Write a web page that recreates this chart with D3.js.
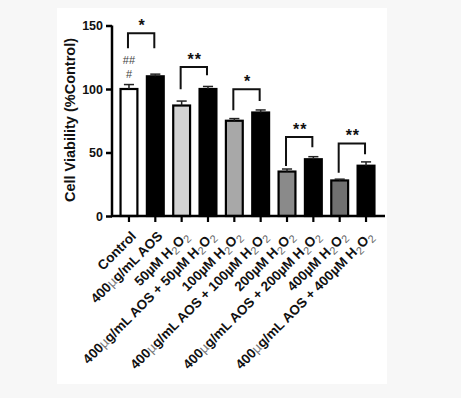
<!DOCTYPE html>
<html>
<head>
<meta charset="utf-8">
<script src="https://cdn.jsdelivr.net/npm/d3@7"></script>
<style>
  html, body { margin: 0; padding: 0; background: #f7f7f7; }
  svg { display: block; }
  text { font-family: "Liberation Sans", Arial, sans-serif; }
</style>
</head>
<body>
<div id="chart"></div>
<script>
// groups
const groups = [
  "Control",
  "400µg/mL AOS",
  "50µM H2O2",
  "400µg/mL AOS + 50µM H2O2",
  "100µM H2O2",
  "400µg/mL AOS + 100µM H2O2",
  "200µM H2O2",
  "400µg/mL AOS + 200µM H2O2",
  "400µM H2O2",
  "400µg/mL AOS + 400µM H2O2"
];
const means = [100, 110, 87, 100, 75, 81.5, 35, 44.7, 28, 39.6];
const errs  = [3.5, 1.7, 3.5, 2, 1.7, 2, 2, 2, 1, 3];
const fills = ["#ffffff", "#000000", "#d4d4d4", "#000000", "#a8a8a8", "#000000", "#8a8a8a", "#000000", "#707070", "#000000"];
const yTicks = [0, 50, 100, 150];

// significance brackets: which pair, bracket top, leg ends (in % units), mark
const pairA = [0, 2, 4, 6, 8];
const bracketTop = [143.8, 117.3, 99.8, 62.3, 57.1];
const legLeft = [132, 99.8, 83.3, 39.3, 34];
const legRight = [132, 110.8, 90.6, 54.2, 48.7];
const marks = ["*", "**", "*", "**", "**"];

const W = 461, H = 398;
const svg = d3.select("#chart").append("svg")
  .attr("width", W).attr("height", H);

// white card
svg.append("rect")
  .attr("x", 57).attr("y", 8).attr("width", 330).attr("height", 376)
  .attr("fill", "#ffffff");

const x = d3.scaleBand()
  .domain(d3.range(groups.length))
  .range([115.8, 379.2])
  .paddingInner(0.36)
  .paddingOuter(0.18);

const y = d3.scaleLinear().domain([0, 150]).range([216, 25.5]);

const g = svg.append("g");

// bars
g.selectAll("rect.bar")
  .data(means)
  .enter()
  .append("rect")
  .attr("class", "bar")
  .attr("x", (d, i) => x(i))
  .attr("y", d => y(d))
  .attr("width", x.bandwidth())
  .attr("height", d => y(0) - y(d))
  .attr("fill", (d, i) => fills[i])
  .attr("stroke", "#000")
  .attr("stroke-width", 2.2);

// error bars (upper only)
const eb = g.selectAll("g.err")
  .data(means)
  .enter()
  .append("g")
  .attr("class", "err")
  .attr("stroke", "#222")
  .attr("stroke-width", 1.5);
eb.append("line")
  .attr("x1", (d, i) => x(i) + x.bandwidth() / 2)
  .attr("x2", (d, i) => x(i) + x.bandwidth() / 2)
  .attr("y1", d => y(d))
  .attr("y2", (d, i) => y(d + errs[i]));
eb.append("line")
  .attr("x1", (d, i) => x(i) + x.bandwidth() * 0.2)
  .attr("x2", (d, i) => x(i) + x.bandwidth() * 0.8)
  .attr("y1", (d, i) => y(d + errs[i]))
  .attr("y2", (d, i) => y(d + errs[i]));

// y axis
const yAxis = g.append("g")
  .attr("transform", "translate(112,0)")
  .call(d3.axisLeft(y).tickValues(yTicks).tickSize(6).tickPadding(3));
yAxis.select(".domain").attr("stroke-width", 2.5).attr("d", "M0,25.5V217");
yAxis.selectAll(".tick line").attr("stroke-width", 2.5);
yAxis.selectAll(".tick text")
  .attr("font-size", 12.5).attr("font-weight", "bold").attr("fill", "#111")
  .style("font-family", "'Liberation Sans', Arial, sans-serif");

// x axis
const xAxis = g.append("g")
  .attr("transform", "translate(0,216)")
  .call(d3.axisBottom(x).tickSize(6).tickFormat(""));
xAxis.select(".domain").attr("stroke-width", 2.5).attr("d", "M111,0H385");
xAxis.selectAll(".tick line").attr("stroke-width", 2.2);

// x labels with subscripts
const labels = g.selectAll("text.xlab")
  .data(groups)
  .enter()
  .append("text")
  .attr("class", "xlab")
  .attr("text-anchor", "end")
  .attr("font-size", 13.5)
  .attr("font-weight", "bold")
  .attr("fill", "#111")
  .attr("transform", (d, i) => `translate(${x(i) + x.bandwidth() / 2 + 8},${237}) rotate(-45)`);

labels.each(function(d) {
  const t = d3.select(this);
  // split into pieces: µ in "µg" is drawn gray/thin, H2O2 subscripts gray
  const parts = d.split(/(µg|H2O2)/).filter(s => s.length);
  parts.forEach(p => {
    if (p === "µg") {
      t.append("tspan").attr("fill", "#777").attr("font-weight", "normal").text("µ");
      t.append("tspan").text("g");
    } else if (p === "H2O2") {
      t.append("tspan").text("H");
      t.append("tspan").attr("dy", 3.5).attr("font-size", 11).attr("fill", "#666").attr("font-weight", "normal").text("2");
      t.append("tspan").attr("dy", -3.5).text("O");
      t.append("tspan").attr("dy", 3.5).attr("font-size", 11).attr("fill", "#666").attr("font-weight", "normal").text("2");
    } else {
      t.append("tspan").text(p);
    }
  });
});

// y label
svg.append("text")
  .attr("transform", "translate(74.5,120) rotate(-90)")
  .attr("text-anchor", "middle")
  .attr("font-size", 14.5)
  .attr("font-weight", "bold")
  .attr("fill", "#111")
  .text("Cell Viability (%Control)");

// brackets
const br = g.selectAll("g.br")
  .data(pairA)
  .enter()
  .append("g")
  .attr("class", "br");
br.append("path")
  .attr("d", (a, k) => {
    const xl = x(a) + x.bandwidth() / 2 - 1;
    const xr = x(a + 1) + x.bandwidth() / 2 - 1;
    return `M${xl},${y(legLeft[k])}V${y(bracketTop[k])}H${xr}V${y(legRight[k])}`;
  })
  .attr("fill", "none")
  .attr("stroke", "#111")
  .attr("stroke-width", 2);
br.append("text")
  .attr("x", a => (x(a) + x(a + 1) + x.bandwidth()) / 2)
  .attr("y", (a, k) => y(bracketTop[k]) - 2)
  .attr("text-anchor", "middle")
  .attr("font-size", 16)
  .attr("font-weight", "bold")
  .attr("letter-spacing", 1)
  .attr("fill", "#111")
  .text((a, k) => marks[k]);

// # marks over control
g.append("text")
  .attr("x", x(0) + x.bandwidth() / 2)
  .attr("y", 64)
  .attr("text-anchor", "middle")
  .attr("font-size", 11)
  .attr("fill", "#444")
  .text("##");
g.append("text")
  .attr("x", x(0) + x.bandwidth() / 2)
  .attr("y", 78)
  .attr("text-anchor", "middle")
  .attr("font-size", 11)
  .attr("fill", "#444")
  .text("#");
</script>
</body>
</html>
